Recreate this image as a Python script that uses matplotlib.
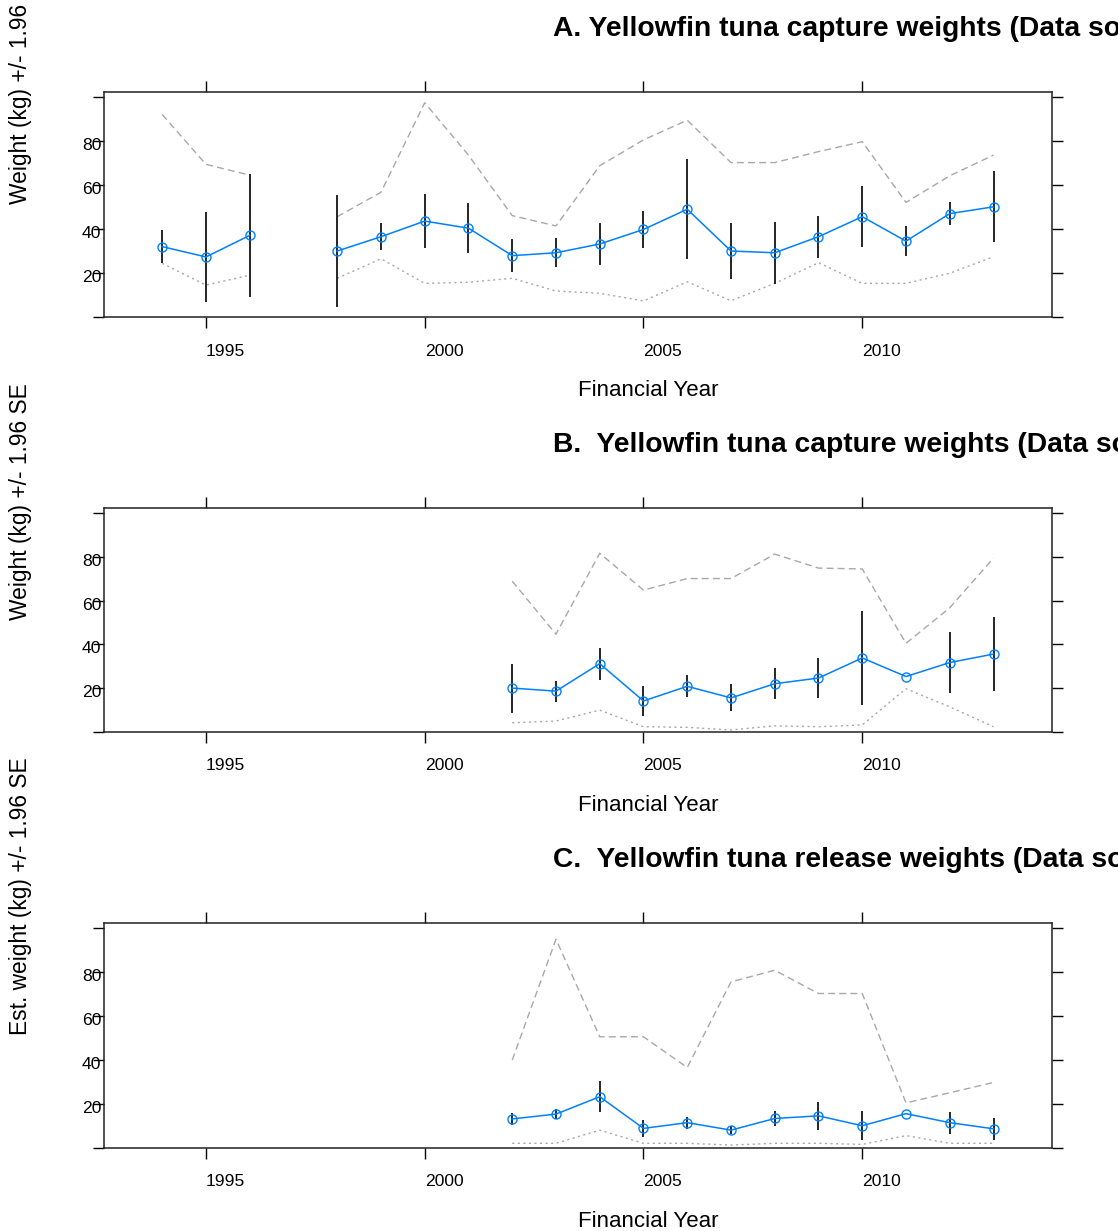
import numpy as np
import matplotlib.pyplot as plt
from matplotlib.transforms import ScaledTranslation

plt.rcParams['font.family'] = ['Liberation Sans', 'DejaVu Sans']

nan = np.nan

# panel A: capture weights, 1994-2013 (1997 missing)
years_a = np.arange(1994, 2014)
mean_a = [32.0, 27.3, 37.1, nan, 30.0, 36.5, 43.6, 40.4, 27.9, 29.2,
          33.2, 39.8, 49.0, 30.0, 29.2, 36.5, 45.6, 34.5, 47.0, 50.1]
se196_a = [7.6, 20.5, 27.9, nan, 25.6, 6.1, 12.3, 11.3, 7.6, 6.6,
           9.4, 8.4, 22.8, 12.9, 14.2, 9.6, 13.9, 6.7, 5.1, 16.2]
max_a = [92.1, 69.4, 64.5, nan, 45.6, 56.7, 97.4, 73.6, 46.1, 41.4,
         68.8, 80.5, 89.5, 70.2, 70.2, 75.2, 79.7, 52.1, 64.2, 73.6]
min_a = [24.4, 14.5, 19.0, nan, 17.6, 26.5, 15.3, 15.8, 17.6, 11.8,
         10.8, 7.3, 16.0, 7.4, 15.3, 24.7, 15.3, 15.3, 19.9, 27.4]

# panel B: capture weights, 2002-2013
years_b = np.arange(2002, 2014)
mean_b = [19.9, 18.5, 31.1, 14.0, 20.7, 15.4, 21.9, 24.5, 33.7, 25.2, 31.6, 35.5]
se196_b = [11.2, 4.8, 7.4, 6.9, 5.0, 6.2, 7.2, 9.0, 21.4, nan, 13.8, 17.0]
max_b = [68.9, 44.6, 81.7, 64.8, 70.1, 70.1, 81.3, 74.9, 74.5, 40.4, 56.7, 79.5]
min_b = [4.0, 4.8, 9.8, 2.2, 1.9, 0.7, 2.6, 2.2, 3.0, 19.6, 11.3, 2.2]

# panel C: release weights, 2002-2013
years_c = np.arange(2002, 2014)
mean_c = [13.1, 15.3, 23.2, 8.8, 11.4, 8.0, 13.3, 14.5, 10.0, 15.5, 11.4, 8.6]
se196_c = [2.7, 2.4, 7.1, 3.9, 2.7, 1.8, 3.6, 6.3, 6.5, nan, 5.0, 5.0]
max_c = [39.9, 94.9, 50.5, 50.5, 36.5, 75.5, 80.8, 70.2, 70.2, 20.4, 25.0, 29.7]
min_c = [2.0, 2.0, 8.0, 2.0, 2.0, 1.2, 2.0, 2.0, 1.5, 5.5, 2.0, 2.0]

titles = ["A. Yellowfin tuna capture weights (Data source)",
          "B.  Yellowfin tuna capture weights (Data source)",
          "C.  Yellowfin tuna release weights (Data source)"]
ylabels = ["Weight (kg) +/- 1.96 SE",
           "Weight (kg) +/- 1.96 SE",
           "Est. weight (kg) +/- 1.96 SE"]
xticks = [1995, 2000, 2005, 2010]
yticks = [0, 20, 40, 60, 80, 100]
ytick_labels = ['', '20', '40', '60', '80', '']

panels = [(years_a, mean_a, se196_a, max_a, min_a),
          (years_b, mean_b, se196_b, max_b, min_b),
          (years_c, mean_c, se196_c, max_c, min_c)]

W, H = 1118, 1231
fig = plt.figure(figsize=(W / 100, H / 100), dpi=100)

# box tops / bottoms in pixels
boxes = [(92, 317), (508.3, 731.5), (923, 1147.7)]
left_px, right_px = 104, 1051.7

for i, (yrs, m, s, hi, lo) in enumerate(panels):
    top, bot = boxes[i]
    ax = fig.add_axes([left_px / W, 1 - bot / H, (right_px - left_px) / W, (bot - top) / H])
    m = np.array(m)
    s = np.array(s)

    ax.plot(yrs, hi, color='#a8a8a8', lw=1.0, dashes=(5, 3))
    ax.plot(yrs, lo, color='#a8a8a8', lw=1.0, dashes=(1.5, 2.5))
    ax.vlines(yrs, m - s, m + s, color='black', lw=1.2)
    ax.plot(yrs, m, '-o', color='#0080ff', lw=1.1, ms=6.5, mfc='none', mew=1.0)

    ax.set_xlim(1992.67, 2014.33)
    ax.set_ylim(0, 102.3)
    ax.set_xticks(xticks)
    ax.set_xticklabels([str(x) for x in xticks])
    ax.set_yticks(yticks)
    ax.set_yticklabels(ytick_labels)
    ax.tick_params(direction='out', length=7.9, width=1.0, colors='black',
                   labelsize=12.6, top=True, right=True)
    ax.tick_params(axis='y', pad=-6.1)
    ax.tick_params(axis='x', pad=11.3)
    for lab in ax.get_xticklabels():
        lab.set_ha('left')
    for lab in ax.get_yticklabels():
        lab.set_transform(lab.get_transform() + ScaledTranslation(0, -0.03, fig.dpi_scale_trans))
    for sp in ax.spines.values():
        sp.set_linewidth(1.1)
        sp.set_color('#222222')

    h = bot - top
    ax.set_xlabel('Financial Year', fontsize=16)
    ax.xaxis.set_label_coords(0.5, -63.5 / h)
    ax.xaxis.label.set_ha('left')
    ax.set_ylabel(ylabels[i], fontsize=16.4)
    ax.yaxis.set_label_coords((32.5 - left_px) / (right_px - left_px), 0.5)
    ax.yaxis.label.set_ha('left')

    ax.text((553 - left_px) / (right_px - left_px), 1 + 63 / h, titles[i],
            transform=ax.transAxes, ha='left', va='center',
            fontsize=20.3, fontweight='bold')

fig.savefig('out.png', dpi=100)
